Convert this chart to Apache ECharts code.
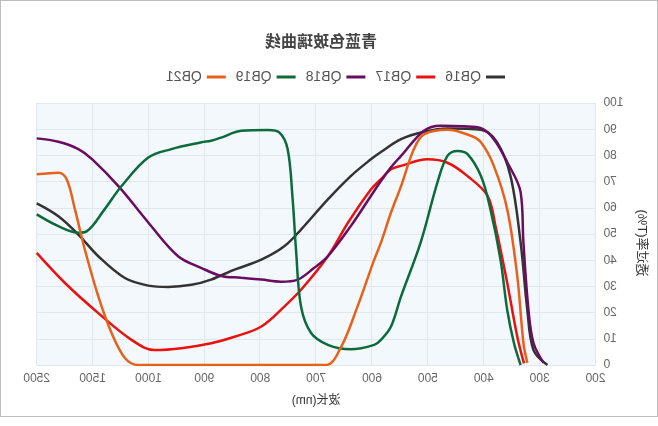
<!DOCTYPE html>
<html>
<head>
<meta charset="utf-8">
<script src="https://cdn.jsdelivr.net/npm/echarts@6/dist/echarts.min.js"></script>
<style>
  html, body { margin: 0; padding: 0; background: #fff; }
  /* 参考图是左右镜像的，整体翻转 */
  #box {
    position: absolute; left: 0; top: 0;
    width: 658px; height: 417px;
    box-sizing: border-box;
    border: 1px solid #bdbdbd;
    transform: scaleX(-1);
  }
  #main { width: 656px; height: 415px; }
</style>
</head>
<body>
<div id="box"><div id="main"></div></div>
<script>
// x轴刻度（非线性：1000之后跳到1500、2500）
const xLabels = ['200', '300', '400', '500', '600', '700', '800', '900', '1000', '1500', '2500']
const xTicks = [200, 300, 400, 500, 600, 700, 800, 900, 1000, 1500, 2500]

const seriesNames = ['QB16', 'QB17', 'QB18', 'QB19', 'QB21']

// 波长(nm) / 透过率(T%)
const qb16Nm = [286, 311, 322, 334, 352, 376, 405, 465, 507, 548, 584, 602, 638, 679, 727, 757, 798, 846, 888, 923, 965, 1002, 1211, 1449, 1755, 2112, 2500]
const qb16 = [0, 5.7, 21, 46.7, 72, 85, 89.8, 90.3, 89, 86.2, 81.3, 78.5, 72.1, 63.2, 51.7, 45.3, 40.2, 36.4, 32.6, 30.6, 29.8, 30.3, 33.2, 41.5, 49.8, 56.8, 61.7]

const qb17Nm = [328, 340, 358, 379, 393, 429, 465, 501, 548, 566, 584, 602, 643, 679, 727, 757, 798, 846, 888, 941, 989, 1152, 1449, 1994, 2500]
const qb17 = [0.6, 10.8, 31.3, 53, 64.5, 72.1, 77.2, 78.5, 76, 74.7, 70.9, 67, 54.3, 41.5, 28.7, 22.3, 14.7, 10.8, 8.3, 6.4, 5.7, 9.6, 19.8, 31.3, 42.8]

const qb18Nm = [293, 311, 320, 329, 334, 358, 382, 405, 436, 477, 507, 548, 566, 584, 602, 638, 679, 704, 733, 763, 798, 834, 870, 905, 947, 1002, 1259, 1505, 1755, 2112, 2500]
const qb18 = [0.8, 8.4, 21, 46.7, 65.9, 77.4, 86.2, 90.4, 91.1, 91.3, 89.4, 79.8, 75.5, 70.2, 64.5, 53, 41.5, 37, 32.6, 31.8, 32.6, 33.3, 34, 37, 41.5, 54.4, 67.8, 78.5, 82.4, 85.2, 86.5]

const qb19Nm = [334, 346, 358, 370, 388, 405, 429, 447, 465, 483, 513, 548, 566, 584, 596, 638, 679, 709, 727, 736, 742, 751, 766, 786, 834, 870, 888, 905, 959, 1002, 1241, 1393, 1607, 1755, 2112, 2500]
const qb19 = [0, 8.4, 21, 40.2, 59.4, 72.1, 80.5, 81.7, 79.8, 69.6, 46.7, 26.2, 14.7, 9.6, 7.7, 6, 7.7, 12.2, 22.3, 44, 63.2, 82.4, 88.8, 89.7, 89.4, 86.8, 85.6, 85, 82.4, 79.2, 68.3, 59.4, 51, 50.5, 53, 57.5]

const qb21Nm = [322, 329, 340, 358, 382, 405, 423, 465, 507, 525, 548, 566, 584, 596, 626, 655, 682, 750, 850, 950, 1092, 1211, 1330, 1449, 1638, 1816, 1964, 2112, 2500]
const qb21 = [0.8, 8.4, 33.8, 59.4, 76, 85, 87.5, 89.8, 88, 82.4, 68.3, 58.2, 46.7, 40.2, 22.3, 7, 0, 0, 0, 0, 0, 2.7, 12.2, 26.2, 44, 59.4, 70.9, 73.4, 72.8]

const colors = ['#333333', '#e8120e', '#6a0c5f', '#0b6b3b', '#e8611a']

/*把波长换算成x轴上的位置（刻度等距）*/
function nmToPos(nm) {
  for (let i = 1; i < xTicks.length; i++) {
    if (nm <= xTicks[i]) {
      return i - 1 + (nm - xTicks[i - 1]) / (xTicks[i] - xTicks[i - 1])
    }
  }
  return xTicks.length - 1
}

const allNm = [qb16Nm, qb17Nm, qb18Nm, qb19Nm, qb21Nm]
const allVal = [qb16, qb17, qb18, qb19, qb21]

const series = seriesNames.map((name, k) => ({
  name: name,
  type: 'line',
  smooth: 0.35,
  symbol: 'none',
  lineStyle: { width: 2.5, color: colors[k] },
  itemStyle: { color: colors[k] },
  data: allNm[k].map((nm, i) => [nmToPos(nm), allVal[k][i]])
}))

const option = {
  animation: false,
  textStyle: { fontFamily: '"Liberation Sans", "Noto Sans CJK SC", sans-serif' },
  title: {
    text: '青蓝色玻璃曲线',
    left: 275,
    top: 29,
    textStyle: { fontSize: 16, fontWeight: 'bold', color: '#444' }
  },
  legend: {
    data: seriesNames,
    left: 147,
    top: 64,
    icon: 'rect',
    itemWidth: 19,
    itemHeight: 3,
    itemGap: 10,
    textStyle: { fontSize: 14, color: '#555' }
  },
  grid: {
    left: 61.5,
    right: 35.7,
    top: 102,
    bottom: 51,
    show: true,
    backgroundColor: '#f3f8fc',
    borderWidth: 0
  },
  xAxis: {
    type: 'value',
    min: 0,
    max: xLabels.length - 1,
    interval: 1,
    name: '波长(nm)',
    nameLocation: 'middle',
    nameGap: 30,
    nameTextStyle: { fontSize: 12, color: '#333' },
    axisLine: { show: false },
    axisTick: { show: false },
    axisLabel: {
      fontSize: 12,
      color: '#666',
      formatter: v => xLabels[v]
    },
    splitLine: { show: true, lineStyle: { color: '#e1e7ef' } }
  },
  yAxis: {
    type: 'value',
    min: 0,
    max: 100,
    interval: 10,
    name: '透过率(T%)',
    nameLocation: 'middle',
    nameGap: 40,
    nameTextStyle: { fontSize: 13, color: '#333', padding: [0, 18, 0, 0] },
    axisLine: { show: false },
    axisTick: { show: false },
    axisLabel: { fontSize: 12, color: '#666' },
    splitLine: { show: true, lineStyle: { color: '#e1e7ef' } }
  },
  series: series
}

const myChart = echarts.init(document.getElementById('main'))
myChart.setOption(option)
</script>
</body>
</html>
